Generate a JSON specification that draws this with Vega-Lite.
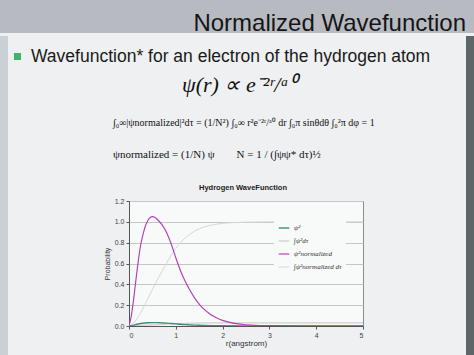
{
  "$schema": "https://vega.github.io/schema/vega-lite/v6.json",
  "background": "#eef0f1",
  "padding": 0,
  "config": {"view": {"stroke": null}, "font": "Liberation Sans"},
  "datasets": {
    "empty": [],
    "curves": [
      {"series": "∫ψ²normalized dτ", "r": 0, "p": 0},
      {"series": "∫ψ²normalized dτ", "r": 0.1, "p": 0.03},
      {"series": "∫ψ²normalized dτ", "r": 0.2, "p": 0.09},
      {"series": "∫ψ²normalized dτ", "r": 0.3, "p": 0.17},
      {"series": "∫ψ²normalized dτ", "r": 0.4, "p": 0.26},
      {"series": "∫ψ²normalized dτ", "r": 0.5, "p": 0.35},
      {"series": "∫ψ²normalized dτ", "r": 0.6, "p": 0.44},
      {"series": "∫ψ²normalized dτ", "r": 0.7, "p": 0.52},
      {"series": "∫ψ²normalized dτ", "r": 0.8, "p": 0.6},
      {"series": "∫ψ²normalized dτ", "r": 0.9, "p": 0.68},
      {"series": "∫ψ²normalized dτ", "r": 1.0, "p": 0.745},
      {"series": "∫ψ²normalized dτ", "r": 1.1, "p": 0.8},
      {"series": "∫ψ²normalized dτ", "r": 1.2, "p": 0.845},
      {"series": "∫ψ²normalized dτ", "r": 1.3, "p": 0.88},
      {"series": "∫ψ²normalized dτ", "r": 1.4, "p": 0.91},
      {"series": "∫ψ²normalized dτ", "r": 1.5, "p": 0.932},
      {"series": "∫ψ²normalized dτ", "r": 1.6, "p": 0.95},
      {"series": "∫ψ²normalized dτ", "r": 1.8, "p": 0.972},
      {"series": "∫ψ²normalized dτ", "r": 2.0, "p": 0.985},
      {"series": "∫ψ²normalized dτ", "r": 2.2, "p": 0.992},
      {"series": "∫ψ²normalized dτ", "r": 2.5, "p": 0.997},
      {"series": "∫ψ²normalized dτ", "r": 3.0, "p": 1.0},
      {"series": "∫ψ²normalized dτ", "r": 4.0, "p": 1.0},
      {"series": "∫ψ²normalized dτ", "r": 5.0, "p": 1.0},
      {"series": "∫ψ²dτ", "r": 0, "p": 0},
      {"series": "∫ψ²dτ", "r": 0.2, "p": 0.0028},
      {"series": "∫ψ²dτ", "r": 0.4, "p": 0.008},
      {"series": "∫ψ²dτ", "r": 0.6, "p": 0.0136},
      {"series": "∫ψ²dτ", "r": 0.8, "p": 0.0186},
      {"series": "∫ψ²dτ", "r": 1.0, "p": 0.023},
      {"series": "∫ψ²dτ", "r": 1.2, "p": 0.0262},
      {"series": "∫ψ²dτ", "r": 1.4, "p": 0.0282},
      {"series": "∫ψ²dτ", "r": 1.6, "p": 0.0295},
      {"series": "∫ψ²dτ", "r": 2.0, "p": 0.0305},
      {"series": "∫ψ²dτ", "r": 2.5, "p": 0.031},
      {"series": "∫ψ²dτ", "r": 3.0, "p": 0.031},
      {"series": "∫ψ²dτ", "r": 4.0, "p": 0.031},
      {"series": "∫ψ²dτ", "r": 5.0, "p": 0.031},
      {"series": "ψ²", "r": 0, "p": 0},
      {"series": "ψ²", "r": 0.05, "p": 0.003},
      {"series": "ψ²", "r": 0.1, "p": 0.008},
      {"series": "ψ²", "r": 0.15, "p": 0.014},
      {"series": "ψ²", "r": 0.2, "p": 0.019},
      {"series": "ψ²", "r": 0.3, "p": 0.027},
      {"series": "ψ²", "r": 0.4, "p": 0.031},
      {"series": "ψ²", "r": 0.5, "p": 0.0325},
      {"series": "ψ²", "r": 0.6, "p": 0.032},
      {"series": "ψ²", "r": 0.7, "p": 0.03},
      {"series": "ψ²", "r": 0.8, "p": 0.028},
      {"series": "ψ²", "r": 0.9, "p": 0.0245},
      {"series": "ψ²", "r": 1.0, "p": 0.0205},
      {"series": "ψ²", "r": 1.1, "p": 0.0165},
      {"series": "ψ²", "r": 1.2, "p": 0.0135},
      {"series": "ψ²", "r": 1.3, "p": 0.011},
      {"series": "ψ²", "r": 1.4, "p": 0.0085},
      {"series": "ψ²", "r": 1.5, "p": 0.0066},
      {"series": "ψ²", "r": 1.6, "p": 0.005},
      {"series": "ψ²", "r": 1.8, "p": 0.003},
      {"series": "ψ²", "r": 2.0, "p": 0.0017},
      {"series": "ψ²", "r": 2.4, "p": 0.0005},
      {"series": "ψ²", "r": 3.0, "p": 0.0001},
      {"series": "ψ²", "r": 4.0, "p": 0},
      {"series": "ψ²", "r": 5.0, "p": 0},
      {"series": "ψ²normalized", "r": 0, "p": 0},
      {"series": "ψ²normalized", "r": 0.05, "p": 0.1},
      {"series": "ψ²normalized", "r": 0.1, "p": 0.26},
      {"series": "ψ²normalized", "r": 0.15, "p": 0.45},
      {"series": "ψ²normalized", "r": 0.2, "p": 0.63},
      {"series": "ψ²normalized", "r": 0.25, "p": 0.78},
      {"series": "ψ²normalized", "r": 0.3, "p": 0.88},
      {"series": "ψ²normalized", "r": 0.35, "p": 0.96},
      {"series": "ψ²normalized", "r": 0.4, "p": 1.01},
      {"series": "ψ²normalized", "r": 0.45, "p": 1.04},
      {"series": "ψ²normalized", "r": 0.5, "p": 1.05},
      {"series": "ψ²normalized", "r": 0.55, "p": 1.045},
      {"series": "ψ²normalized", "r": 0.6, "p": 1.025},
      {"series": "ψ²normalized", "r": 0.7, "p": 0.975},
      {"series": "ψ²normalized", "r": 0.8, "p": 0.9},
      {"series": "ψ²normalized", "r": 0.9, "p": 0.79},
      {"series": "ψ²normalized", "r": 1.0, "p": 0.655},
      {"series": "ψ²normalized", "r": 1.1, "p": 0.53},
      {"series": "ψ²normalized", "r": 1.2, "p": 0.43},
      {"series": "ψ²normalized", "r": 1.3, "p": 0.345},
      {"series": "ψ²normalized", "r": 1.4, "p": 0.27},
      {"series": "ψ²normalized", "r": 1.5, "p": 0.21},
      {"series": "ψ²normalized", "r": 1.6, "p": 0.162},
      {"series": "ψ²normalized", "r": 1.7, "p": 0.125},
      {"series": "ψ²normalized", "r": 1.8, "p": 0.095},
      {"series": "ψ²normalized", "r": 1.9, "p": 0.072},
      {"series": "ψ²normalized", "r": 2.0, "p": 0.054},
      {"series": "ψ²normalized", "r": 2.2, "p": 0.03},
      {"series": "ψ²normalized", "r": 2.4, "p": 0.017},
      {"series": "ψ²normalized", "r": 2.6, "p": 0.009},
      {"series": "ψ²normalized", "r": 2.8, "p": 0.005},
      {"series": "ψ²normalized", "r": 3.0, "p": 0.003},
      {"series": "ψ²normalized", "r": 3.5, "p": 0.001},
      {"series": "ψ²normalized", "r": 4.0, "p": 0},
      {"series": "ψ²normalized", "r": 5.0, "p": 0}
    ]
  },
  "spacing": 0,
  "resolve": {"scale": {"color": "independent", "strokeWidth": "independent"}, "legend": {"color": "independent", "strokeWidth": "independent"}},
  "vconcat": [
    {
      "data": {"name": "empty"},
      "mark": "point",
      "width": 474,
      "height": 33,
      "view": {"fill": "#b8bac2", "stroke": null},
      "title": {"text": "Normalized Wavefunction", "anchor": "end", "dx": -8, "fontSize": 24, "fontWeight": "normal", "font": "Liberation Sans", "color": "#151515", "baseline": "alphabetic", "offset": -55}
    },
    {
      "spacing": 0,
      "resolve": {"scale": {"color": "independent", "strokeWidth": "independent"}, "legend": {"color": "independent", "strokeWidth": "independent"}},
      "hconcat": [
        {"data": {"name": "empty"}, "mark": "point", "width": 8, "height": 319, "view": {"fill": "#c9d1d7", "stroke": null}},
        {
          "spacing": 0,
          "resolve": {"scale": {"color": "independent", "strokeWidth": "independent"}, "legend": {"color": "independent", "strokeWidth": "independent"}},
          "vconcat": [
            {
              "spacing": 0,
              "hconcat": [
                {"data": {"name": "empty"}, "mark": "point", "width": 6, "height": 32},
                {
                  "spacing": 0,
                  "vconcat": [
                    {"data": {"name": "empty"}, "mark": "point", "width": 7, "height": 17},
                    {"data": {"name": "empty"}, "mark": "point", "width": 7, "height": 7, "view": {"fill": "#3db36b", "stroke": null}}
                  ]
                },
                {
                  "data": {"name": "empty"}, "mark": "point", "width": 445, "height": 32,
                  "title": {"text": "Wavefunction* for an electron of the hydrogen atom", "anchor": "start", "dx": 10, "fontSize": 17.5, "fontWeight": "normal", "font": "Liberation Sans", "color": "#1a1a1a", "baseline": "alphabetic", "offset": -43.5}
                }
              ]
            },
            {
              "data": {"name": "empty"}, "mark": "point", "width": 458, "height": 36,
              "title": {"text": "ψ(r) ∝ e⁻²ʳ/ᵃ⁰", "anchor": "start", "dx": 174, "fontSize": 22, "fontWeight": "normal", "fontStyle": "italic", "font": "Liberation Serif", "color": "#111111", "baseline": "alphabetic", "offset": -46}
            },
            {
              "data": {"name": "empty"}, "mark": "point", "width": 458, "height": 36,
              "title": {"text": "∫₀∞|ψnormalized|²dτ = (1/N²) ∫₀∞ r²e⁻²ʳ/ᵃ⁰ dr ∫₀π sinθdθ ∫₀²π dφ = 1", "anchor": "start", "dx": 105, "fontSize": 10, "fontWeight": "normal", "font": "Liberation Serif", "color": "#111111", "baseline": "alphabetic", "offset": -32}
            },
            {
              "data": {"name": "empty"}, "mark": "point", "width": 458, "height": 43,
              "title": {"text": "ψnormalized = (1/N) ψ\u00a0\u00a0\u00a0\u00a0\u00a0\u00a0\u00a0\u00a0N = 1 / (∫ψψ* dτ)½", "anchor": "start", "dx": 105, "fontSize": 11, "fontWeight": "normal", "font": "Liberation Serif", "color": "#111111", "baseline": "alphabetic", "offset": -29}
            },
            {
              "spacing": 0,
              "resolve": {"scale": {"color": "independent", "strokeWidth": "independent"}, "legend": {"color": "independent", "strokeWidth": "independent"}},
              "hconcat": [
                {"data": {"name": "empty"}, "mark": "point", "width": 94, "height": 125},
                {
                  "data": {"name": "curves"},
                  "width": 234,
                  "height": 125,
                  "view": {"fill": "#f8f9f9", "stroke": "#8c8c8c"},
                  "title": {"text": "Hydrogen WaveFunction", "frame": "group", "dx": -3, "fontSize": 7.5, "fontWeight": "bold", "font": "Liberation Sans", "color": "#222222", "offset": 6},
                  "mark": {"type": "line", "interpolate": "monotone", "clip": true},
                  "encoding": {
                    "x": {"field": "r", "type": "quantitative", "scale": {"domain": [0, 5], "nice": false},
                      "axis": {"values": [0, 1, 2, 3, 4, 5], "format": "d", "grid": false, "title": "r(angstrom)", "titleFontSize": 8, "titleFontWeight": "normal", "titleColor": "#333333", "titlePadding": 1, "labelFontSize": 7, "labelColor": "#444444", "labelPadding": 2, "domainColor": "#555555", "tickColor": "#555555", "tickSize": 3}},
                    "y": {"field": "p", "type": "quantitative", "scale": {"domain": [0, 1.2], "nice": false},
                      "axis": {"values": [0, 0.2, 0.4, 0.6, 0.8, 1.0, 1.2], "format": ".1f", "grid": true, "gridColor": "#c6c6c6", "title": "Probability", "titleFontSize": 7, "titleFontWeight": "normal", "titleColor": "#333333", "titlePadding": 4, "labelFontSize": 7, "labelColor": "#444444", "labelPadding": 2, "domainColor": "#555555", "tickColor": "#555555", "tickSize": 3}},
                    "color": {"field": "series", "type": "nominal",
                      "scale": {"domain": ["ψ²", "∫ψ²dτ", "ψ²normalized", "∫ψ²normalized dτ"], "range": ["#3f8f6f", "#cfcfcf", "#b23cb9", "#d6d6d6"]},
                      "legend": {"title": null, "orient": "top-right", "offset": 17, "padding": 4, "fillColor": "#f8f9f9", "symbolType": "stroke", "symbolSize": 110, "symbolStrokeWidth": 1.5, "labelFont": "Liberation Serif", "labelFontStyle": "italic", "labelFontSize": 7, "labelColor": "#333333", "rowPadding": 4, "labelOffset": 4}},
                    "strokeWidth": {"field": "series", "type": "nominal",
                      "scale": {"domain": ["ψ²", "∫ψ²dτ", "ψ²normalized", "∫ψ²normalized dτ"], "range": [1.4, 1, 1.9, 1]},
                      "legend": null}
                  }
                }
              ]
            }
          ]
        },
        {"data": {"name": "empty"}, "mark": "point", "width": 8, "height": 319, "view": {"fill": "#5d6767", "stroke": null}}
      ]
    }
  ]
}
